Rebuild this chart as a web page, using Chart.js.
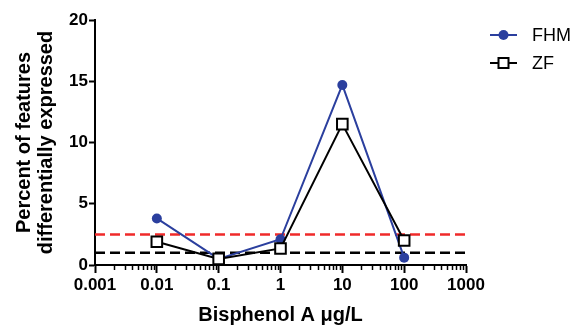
<!DOCTYPE html>
<html>
<head>
<meta charset="utf-8">
<script src="https://cdn.jsdelivr.net/npm/chart.js@4"></script>
<style>
  html, body { margin: 0; padding: 0; background: #fff; }
  #box { width: 575px; height: 327px; }
</style>
</head>
<body>
<div id="box"><canvas id="grafico"></canvas></div>
<script>
// dados
const doses = [0.01, 0.1, 1, 10, 100]
const fhm = [3.8, 0.5, 2.1, 14.7, 0.6]
const zf = [1.9, 0.5, 1.35, 11.5, 2.0]
const xTicks = [0.001, 0.01, 0.1, 1, 10, 100, 1000]
const yTicks = [0, 5, 10, 15, 20]
const limiteVermelho = 2.5
const limitePreto = 1.0

const FONTE = '"Liberation Sans", Arial, sans-serif'
const AZUL = '#2B3F9E'

const pontos = (ys) => doses.map((x, i) => ({ x: x, y: ys[i] }))
const linhaH = (y) => [{ x: xTicks[0], y: y }, { x: xTicks[xTicks.length - 1], y: y }]

// ticks menores do eixo log + legenda com linha e marcador
const extras = {
    id: 'extras',
    afterDraw(chart) {
        const ctx = chart.ctx
        const x = chart.scales.x
        const area = chart.chartArea
        ctx.save()
        ctx.strokeStyle = '#000'
        ctx.lineWidth = 1.5
        for (let d = 0; d < xTicks.length - 1; d++) {
            for (let k = 2; k <= 9; k++) {
                const px = Math.round(x.getPixelForValue(xTicks[d] * k)) + 0.5
                ctx.beginPath()
                ctx.moveTo(px, area.bottom)
                ctx.lineTo(px, area.bottom + 5)
                ctx.stroke()
            }
        }

        const itens = [
            { nome: 'FHM', cor: AZUL, tipo: 'circle', y: area.top + 15 },
            { nome: 'ZF', cor: '#000', tipo: 'rect', y: area.top + 43 }
        ]
        const x0 = area.right + 24
        const x1 = area.right + 51
        itens.forEach(it => {
            ctx.strokeStyle = it.cor
            ctx.lineWidth = 2
            ctx.beginPath()
            ctx.moveTo(x0, it.y)
            ctx.lineTo(x1, it.y)
            ctx.stroke()
            const cx = (x0 + x1) / 2
            if (it.tipo === 'circle') {
                ctx.fillStyle = it.cor
                ctx.beginPath()
                ctx.arc(cx, it.y, 5, 0, Math.PI * 2)
                ctx.fill()
            } else {
                ctx.fillStyle = '#fff'
                ctx.fillRect(cx - 5, it.y - 5, 10, 10)
                ctx.strokeRect(cx - 5, it.y - 5, 10, 10)
            }
            ctx.fillStyle = '#000'
            ctx.font = '18px ' + FONTE
            ctx.textBaseline = 'middle'
            ctx.fillText(it.nome, area.right + 66, it.y + 1)
        })
        ctx.restore()
    }
}

new Chart(document.getElementById('grafico'), {
    type: 'scatter',
    data: {
        datasets: [
            {
                label: 'FHM',
                data: pontos(fhm),
                showLine: true,
                borderColor: AZUL,
                backgroundColor: AZUL,
                borderWidth: 2,
                pointRadius: 5,
                pointBorderWidth: 0,
                pointStyle: 'circle',
                order: 2
            },
            {
                label: 'ZF',
                data: pontos(zf),
                showLine: true,
                borderColor: '#000',
                backgroundColor: '#fff',
                borderWidth: 2,
                pointRadius: 7.5,
                pointBorderWidth: 2,
                pointStyle: 'rect',
                order: 1
            },
            {
                label: 'limite1',
                data: linhaH(limiteVermelho),
                showLine: true,
                borderColor: '#F02A2A',
                borderWidth: 2.5,
                borderDash: [10, 5],
                pointRadius: 0,
                order: 3
            },
            {
                label: 'limite2',
                data: linhaH(limitePreto),
                showLine: true,
                borderColor: '#000',
                borderWidth: 2.5,
                borderDash: [10, 5],
                pointRadius: 0,
                order: 4
            }
        ]
    },
    options: {
        responsive: true,
        maintainAspectRatio: false,
        animation: false,
        layout: { padding: { left: 0, right: 109, top: 20, bottom: 0 } },
        plugins: { legend: { display: false }, tooltip: { enabled: false } },
        scales: {
            x: {
                type: 'logarithmic',
                min: 0.001,
                max: 1000,
                afterBuildTicks: (s) => { s.ticks = xTicks.map(v => ({ value: v, major: true })) },
                afterFit: (s) => { s.height = 62 },
                border: { color: '#000', width: 2 },
                grid: { drawOnChartArea: false, color: '#000', tickLength: 8, tickWidth: 2 },
                ticks: {
                    color: '#000',
                    padding: 2,
                    maxRotation: 0,
                    autoSkip: false,
                    font: { family: FONTE, size: 17, weight: 'bold' },
                    callback: (v) => String(v)
                },
                title: {
                    display: true,
                    text: 'Bisphenol A μg/L',
                    color: '#000',
                    padding: { top: 0, bottom: 0 },
                    font: { family: FONTE, size: 20, weight: 'bold' }
                }
            },
            y: {
                min: 0,
                max: 20,
                afterBuildTicks: (s) => { s.ticks = yTicks.map(v => ({ value: v })) },
                afterFit: (s) => { s.width = 95 },
                border: { color: '#000', width: 2 },
                grid: { drawOnChartArea: false, color: '#000', tickLength: 6, tickWidth: 2 },
                ticks: {
                    color: '#000',
                    padding: 1,
                    font: { family: FONTE, size: 17, weight: 'bold' }
                },
                title: {
                    display: true,
                    text: ['Percent of features', 'differentially expressed'],
                    color: '#000',
                    padding: { top: 13, bottom: 0 },
                    font: { family: FONTE, size: 20, weight: 'bold', lineHeight: 1.1 }
                }
            }
        }
    },
    plugins: [extras]
})
</script>
</body>
</html>
